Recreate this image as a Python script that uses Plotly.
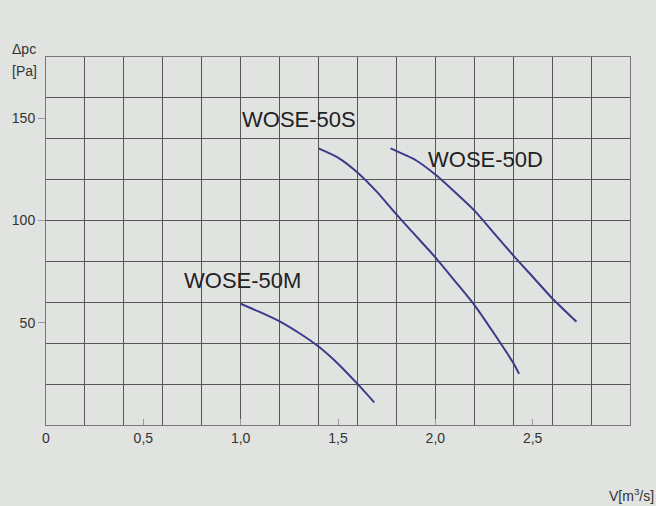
import plotly.graph_objects as go

# Data
m_x = [1.0, 1.1, 1.2, 1.3, 1.4, 1.5, 1.6, 1.686]
m_y = [59.3, 55.2, 50.7, 45.0, 38.4, 30.0, 20.1, 11.1]

s_x = [1.40, 1.5, 1.6, 1.7, 1.8, 1.9, 2.0, 2.1, 2.2, 2.3, 2.4, 2.43]
s_y = [135.3, 130.8, 123.5, 114.0, 103.0, 92.5, 82.0, 70.5, 58.8, 45.0, 30.4, 25.0]

d_x = [1.77, 1.9, 2.0, 2.1, 2.2, 2.3, 2.4, 2.5, 2.6, 2.725]
d_y = [135.3, 129.5, 122.5, 114.0, 105.0, 94.0, 83.0, 72.5, 62.0, 50.5]

labels = ["WOSE-50S", "WOSE-50D", "WOSE-50M"]
label_x = [1.30, 2.26, 1.01]
label_y = [149.5, 130.0, 70.6]

x_tickvals = [0, 0.5, 1.0, 1.5, 2.0, 2.5]
x_ticktext = ["0", "0,5", "1,0", "1,5", "2,0", "2,5"]
y_tickvals = [50, 100, 150]

bg = "#e1e3e1"
grid = "#555555"
curve = "#3d3a8a"
font_family = "Liberation Sans, Arial"

fig = go.Figure()
for xs, ys in [(m_x, m_y), (s_x, s_y), (d_x, d_y)]:
    fig.add_trace(go.Scatter(x=xs, y=ys, mode="lines",
                             line=dict(color=curve, width=2, shape="spline", smoothing=0.6),
                             showlegend=False, hoverinfo="skip"))

for t, lx, ly in zip(labels, label_x, label_y):
    fig.add_annotation(x=lx, y=ly, text=t, showarrow=False,
                       font=dict(family=font_family, size=22, color="#222222"))

fig.add_annotation(xref="paper", yref="paper", x=-0.062, y=1.022, xanchor="left", yanchor="middle",
                   text="Δpc", showarrow=False,
                   font=dict(family=font_family, size=14, color="#333333"))
fig.add_annotation(xref="paper", yref="paper", x=-0.062, y=0.963, xanchor="left", yanchor="middle",
                   text="[Pa]", showarrow=False,
                   font=dict(family=font_family, size=14, color="#333333"))
fig.add_annotation(xref="paper", yref="paper", x=1.045, y=-0.19, xanchor="right", yanchor="middle",
                   text="V[m<sup>3</sup>/s]", showarrow=False,
                   font=dict(family=font_family, size=14, color="#333333"))

fig.update_layout(
    width=656, height=506,
    margin=dict(l=46, r=26, t=57, b=81),
    paper_bgcolor=bg, plot_bgcolor=bg,
    font=dict(family=font_family, size=14, color="#333333"),
    xaxis=dict(range=[0, 3.0], tickvals=x_tickvals, ticktext=x_ticktext, showgrid=False,
               ticks="inside", ticklen=6, tickcolor="#9a9a9a", zeroline=False,
               showline=True, linecolor="#777777", linewidth=1, mirror=True,
               minor=dict(dtick=0.2, tick0=0, showgrid=True, gridcolor=grid, gridwidth=1.4, ticks=""),
               tickfont=dict(size=14, color="#333333")),
    yaxis=dict(range=[0, 180], tickvals=y_tickvals, showgrid=False,
               ticks="outside", ticklen=7, tickcolor="#9a9a9a", zeroline=False,
               showline=True, linecolor="#777777", linewidth=1, mirror=True,
               minor=dict(dtick=20, tick0=0, showgrid=True, gridcolor=grid, gridwidth=1.4, ticks=""),
               tickfont=dict(size=14, color="#333333")),
)

fig.write_html("out.html", config={"displayModeBar": False},
               post_script="document.body.style.margin='0';document.body.style.overflow='hidden';"
                           "document.body.style.background='#e1e3e1';")
